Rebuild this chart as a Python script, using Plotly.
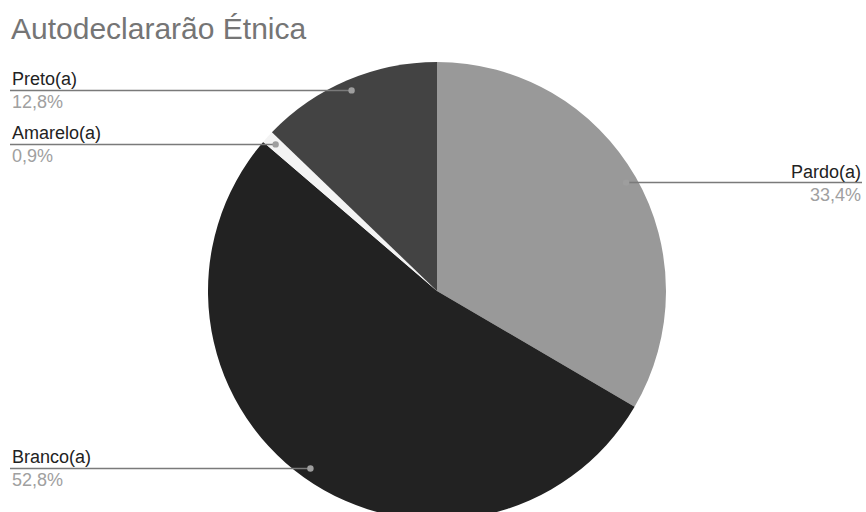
import math
import plotly.graph_objects as go

# Survey answers: self-declared ethnicity
categories = ["Pardo(a)", "Branco(a)", "Amarelo(a)", "Preto(a)"]
shares = [33.4, 52.8, 0.9, 12.8]
value_labels = ["33,4%", "52,8%", "0,9%", "12,8%"]
colors = ["#999999", "#222222", "#f3f3f3", "#434343"]

W, H = 866, 530          # canvas is a little taller than the window so the pie bleeds off the bottom
CX, CY, R = 437, 291, 229  # pie centre and radius, in pixels
DOT_R = 0.952            # leader dots sit just inside the rim
LEFT_X, RIGHT_X = 10, 862
FONT = "Liberation Sans, Arial, sans-serif"


def px(x):
    return x / W


def py(y):
    return 1 - y / H


fig = go.Figure(
    go.Pie(
        labels=categories,
        values=shares,
        sort=False,
        direction="clockwise",
        rotation=0,
        marker=dict(colors=colors, line=dict(width=0)),
        textinfo="none",
        hoverinfo="label+percent",
        showlegend=False,
        domain=dict(x=[px(CX - R), px(CX + R)], y=[py(CY + R), py(CY - R)]),
    )
)

shapes = []
annotations = []
total = sum(shares)
start = 0.0
for name, val, vlab in zip(categories, shares, value_labels):
    mid = (start + val / 2) / total * 2 * math.pi
    start += val
    dx = CX + DOT_R * R * math.sin(mid)
    dy = CY - DOT_R * R * math.cos(mid)
    right = math.sin(mid) > 0
    end_x = RIGHT_X if right else LEFT_X
    shapes.append(dict(type="line", xref="paper", yref="paper",
                       x0=px(dx), x1=px(end_x), y0=py(dy), y1=py(dy),
                       line=dict(color="#7a7a7a", width=1.5), layer="above"))
    rr = 3.2
    shapes.append(dict(type="circle", xref="paper", yref="paper",
                       x0=px(dx - rr), x1=px(dx + rr), y0=py(dy + rr), y1=py(dy - rr),
                       fillcolor="#9e9e9e", line=dict(width=0), layer="above"))
    anchor = "right" if right else "left"
    tx = px(end_x + (0 if right else 1))
    annotations.append(dict(xref="paper", yref="paper", x=tx, y=py(dy),
                            xanchor=anchor, yanchor="bottom", showarrow=False,
                            text=name, font=dict(family=FONT, size=18, color="#222222"),
                            borderpad=0))
    annotations.append(dict(xref="paper", yref="paper", x=tx, y=py(dy + 1),
                            xanchor=anchor, yanchor="top", showarrow=False,
                            text=vlab, font=dict(family=FONT, size=18, color="#a0a0a0"),
                            borderpad=0))

annotations.append(dict(xref="paper", yref="paper", x=px(10), y=py(11),
                        xanchor="left", yanchor="top", showarrow=False,
                        text="Autodeclararão Étnica",
                        font=dict(family=FONT, size=30, color="#757575"),
                        borderpad=0))

fig.update_layout(
    width=W, height=H, autosize=False,
    margin=dict(l=0, r=0, t=0, b=0),
    paper_bgcolor="#ffffff", plot_bgcolor="#ffffff",
    shapes=shapes, annotations=annotations,
)

fig.write_html(
    "out.html",
    post_script="document.body.style.margin='0';document.body.style.overflow='hidden';",
)
